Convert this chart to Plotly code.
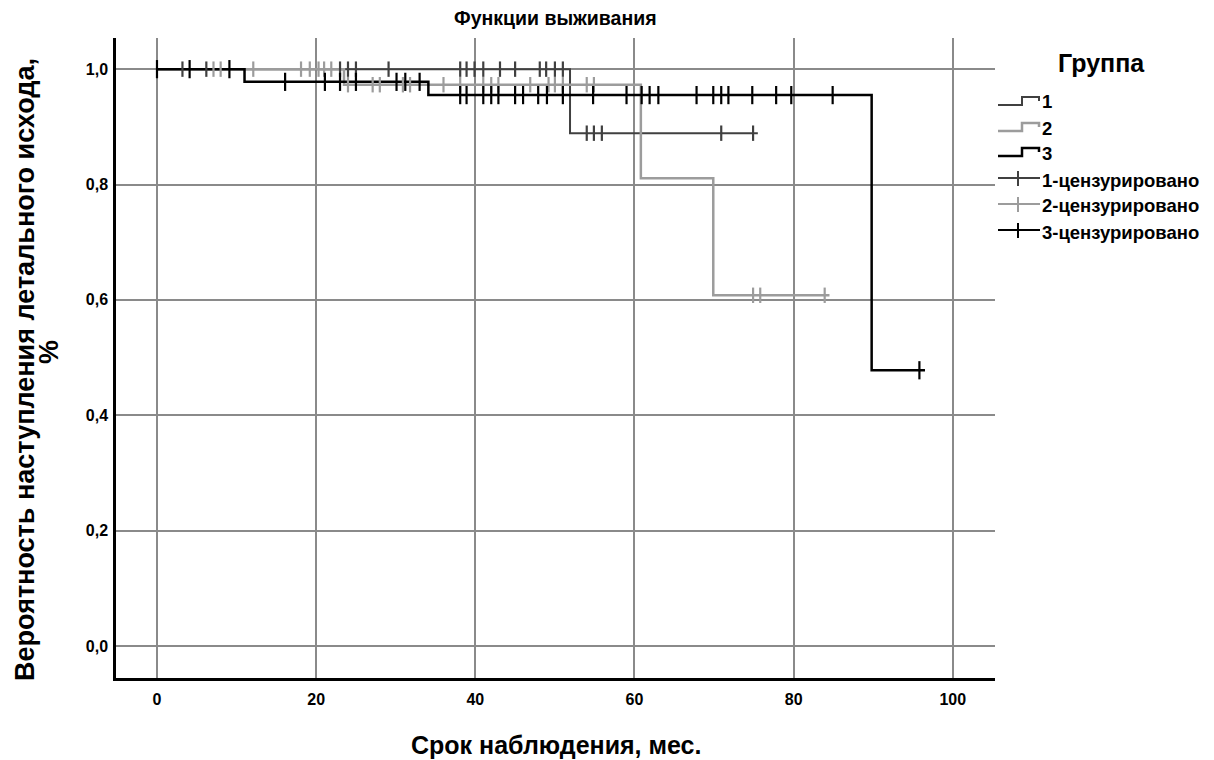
import plotly.graph_objects as go

# ---- data ----
g1_times = [0.0, 51.9, 75.5]
g1_surv = [1.0, 0.889, 0.889]
g1_cens = [3.2, 6.2, 23.0, 24.0, 25.0, 29.1, 38.1, 38.9, 39.9, 41.0, 43.1, 45.0,
           48.1, 48.9, 50.0, 51.0, 54.0, 54.9, 55.9, 70.9, 74.9]

g2_times = [0.0, 23.5, 60.8, 69.9, 84.5]
g2_surv = [1.0, 0.973, 0.811, 0.608, 0.608]
g2_cens = [7.1, 8.0, 12.1, 18.1, 19.2, 20.3, 21.0, 21.9, 24.0, 27.1, 28.0, 30.9,
           31.8, 36.0, 38.1, 41.0, 42.0, 42.9, 46.9, 49.2, 50.0, 51.0, 54.0, 54.9,
           74.9, 75.8, 83.9]

g3_times = [0.0, 11.0, 34.1, 89.8, 96.5]
g3_surv = [1.0, 0.978, 0.955, 0.478, 0.478]
g3_cens = [0.0, 4.1, 9.1, 16.1, 21.1, 23.0, 25.0, 30.1, 31.2, 33.0, 38.1, 38.9,
           41.0, 42.0, 42.9, 45.0, 46.0, 47.9, 49.0, 51.0, 54.8, 59.0, 60.9, 61.9,
           63.0, 67.8, 69.9, 70.9, 71.8, 74.8, 77.8, 79.7, 84.9, 95.8]

group_names = ["1", "2", "3"]
cens_names = ["1-цензурировано", "2-цензурировано", "3-цензурировано"]
x_ticks = [0, 20, 40, 60, 80, 100]
y_ticks = [0.0, 0.2, 0.4, 0.6, 0.8, 1.0]

title_text = "Функции выживания"
x_title = "Срок наблюдения, мес."
y_title_1 = "Вероятность наступления летального исхода,"
y_title_2 = "%"
legend_title = "Группа"

# ---- styles ----
colors = ["#404040", "#9c9c9c", "#000000"]
widths = [2.0, 2.5, 2.5]
msizes = [11, 11, 13]
FONT = "Liberation Sans, Arial, sans-serif"


def surv_at(t, times, surv):
    s = surv[0]
    for ti, si in zip(times, surv):
        if t >= ti:
            s = si
    return s


fig = go.Figure()
groups = [(g1_times, g1_surv, g1_cens), (g2_times, g2_surv, g2_cens), (g3_times, g3_surv, g3_cens)]
for i, (tt, ss, cc) in enumerate(groups):
    fig.add_trace(go.Scatter(x=tt, y=ss, mode="lines", line=dict(shape="hv", color=colors[i], width=widths[i]),
                             name=group_names[i], showlegend=False, hoverinfo="skip"))
for i, (tt, ss, cc) in enumerate(groups):
    fig.add_trace(go.Scatter(x=cc, y=[surv_at(c, tt, ss) for c in cc], mode="markers",
                             marker=dict(symbol="line-ns", size=msizes[i], color=colors[i],
                                         line=dict(width=2.2, color=colors[i])),
                             name=cens_names[i], showlegend=False))

# plot area in pixels
L, R, T, B = 116, 995, 38, 678
W, H = 1214, 760


def px(xp):
    return (xp - L) / (R - L)


def py(yp):
    return (B - yp) / (B - T)


def bold(size):
    return dict(family=FONT, size=size, weight="bold", color="black")


shapes = []
annotations = []
# manual legend
leg_x0, leg_xs, leg_x1 = 998, 1022, 1039
item_y = [101, 127, 152, 180, 206, 232]
for i in range(3):
    yc = item_y[i]
    ylow, yhigh = yc + 4, yc - 4
    path = (f"M {px(leg_x0)},{py(ylow)} L {px(leg_xs)},{py(ylow)} L {px(leg_xs)},{py(yhigh)} "
            f"L {px(leg_x1)},{py(yhigh)} L {px(leg_x1)},{py(yc)}")
    shapes.append(dict(type="path", xref="paper", yref="paper", path=path,
                       line=dict(color=colors[i], width=widths[i])))
    annotations.append(dict(x=px(1040), y=py(yc + 1), xref="paper", yref="paper", text=group_names[i],
                            showarrow=False, xanchor="left", yanchor="middle", font=bold(18.5)))
for i in range(3):
    yc = item_y[3 + i]
    shapes.append(dict(type="line", xref="paper", yref="paper", x0=px(leg_x0), x1=px(1040),
                       y0=py(yc - 2), y1=py(yc - 2), line=dict(color=colors[i], width=2)))
    shapes.append(dict(type="line", xref="paper", yref="paper", x0=px(1018), x1=px(1018),
                       y0=py(yc - 9), y1=py(yc + 6), line=dict(color=colors[i], width=2)))
    annotations.append(dict(x=px(1040), y=py(yc), xref="paper", yref="paper", text=cens_names[i],
                            showarrow=False, xanchor="left", yanchor="middle", font=bold(18.5)))
annotations.append(dict(x=px(1101), y=py(63), xref="paper", yref="paper", text=legend_title,
                        showarrow=False, xanchor="center", yanchor="middle", font=bold(25)))
# axis titles
annotations.append(dict(x=0.5, y=py(745), xref="paper", yref="paper", text=x_title,
                        showarrow=False, xanchor="center", yanchor="middle", font=bold(25)))
annotations.append(dict(x=px(25), y=py(370), xref="paper", yref="paper", text=y_title_1,
                        showarrow=False, xanchor="center", yanchor="middle", textangle=-90, font=bold(27)))
annotations.append(dict(x=px(49), y=py(352), xref="paper", yref="paper", text=y_title_2,
                        showarrow=False, xanchor="center", yanchor="middle", textangle=-90, font=bold(27)))
# chart title
annotations.append(dict(x=0.5, y=py(18), xref="paper", yref="paper", text=title_text,
                        showarrow=False, xanchor="center", yanchor="middle", font=bold(19.5)))

fig.update_layout(
    width=W, height=H,
    margin=dict(l=L, r=W - R, t=T, b=H - B),
    paper_bgcolor="white", plot_bgcolor="white",
    separators=", ",
    shapes=shapes, annotations=annotations,
    showlegend=False,
)
fig.update_xaxes(range=[-5.15, 105.3], tickvals=x_ticks, ticktext=[str(v) for v in x_ticks],
                 showgrid=True, gridcolor="#8a8a8a", gridwidth=1.8, zeroline=False,
                 showline=True, linecolor="black", linewidth=2.5, ticks="",
                 ticklabelstandoff=5, tickfont=bold(16))
fig.update_yaxes(range=[-0.0555, 1.054], tickvals=y_ticks, tickformat=".1f",
                 showgrid=True, gridcolor="#8a8a8a", gridwidth=1.8, zeroline=False,
                 showline=True, linecolor="black", linewidth=2.5, ticks="",
                 ticklabelstandoff=2, tickfont=bold(16))

fig.write_html("out.html", config={"displayModeBar": False},
               post_script="document.body.style.margin='0';")
